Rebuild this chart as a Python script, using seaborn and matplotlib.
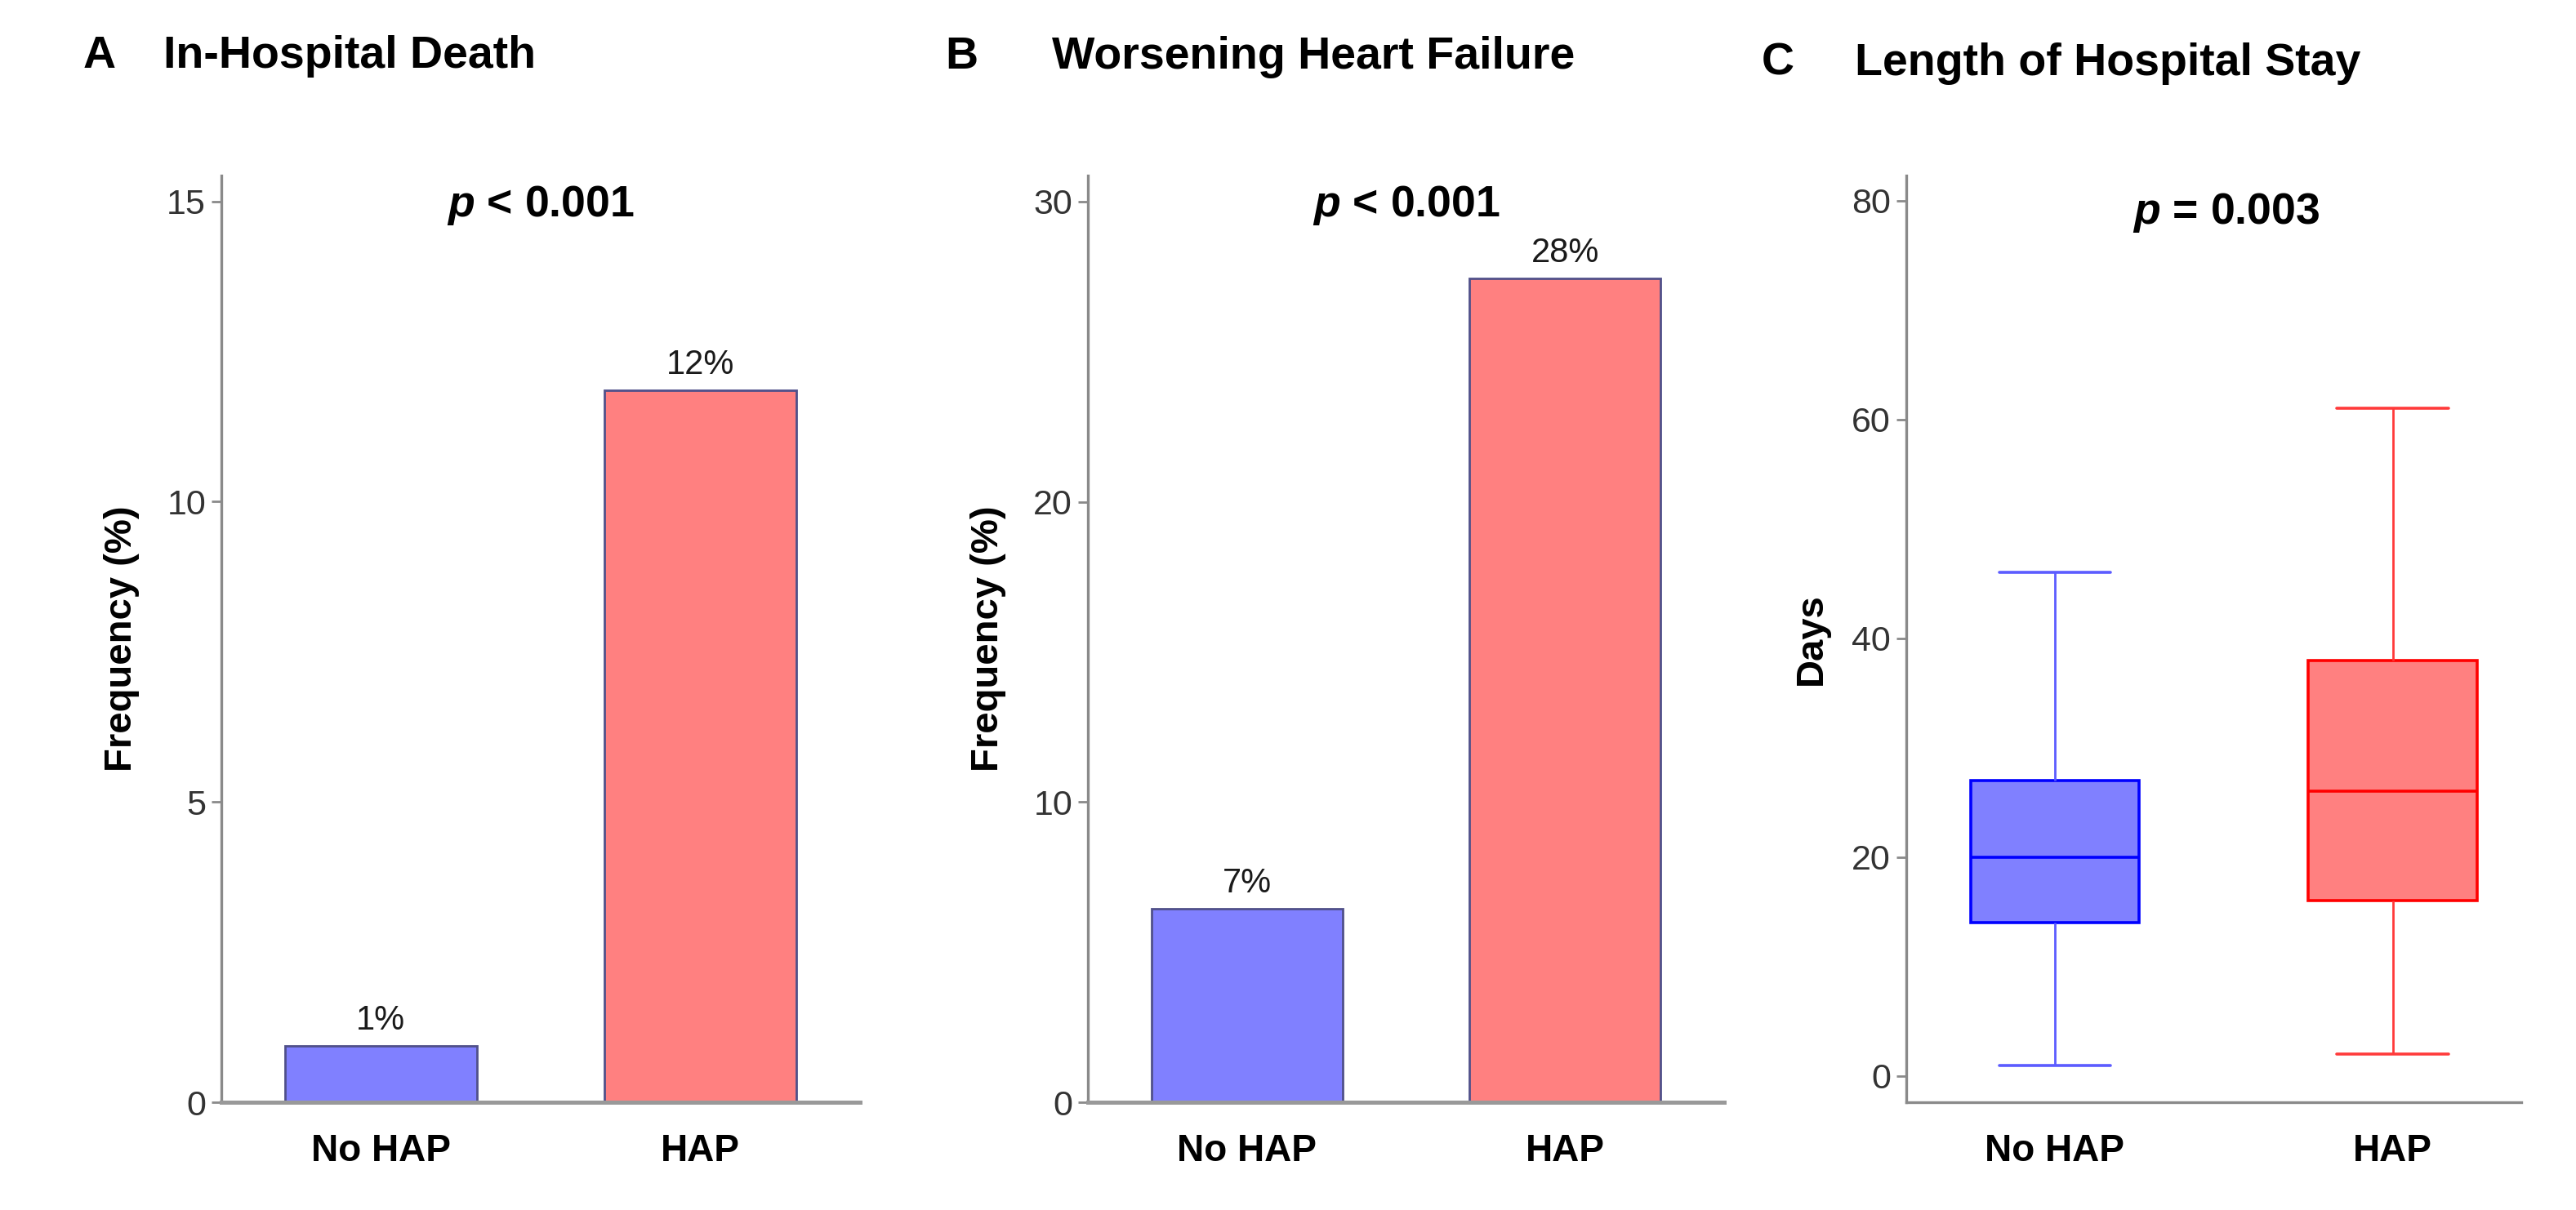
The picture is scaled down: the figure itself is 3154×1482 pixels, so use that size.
import matplotlib
matplotlib.use('Agg')
import matplotlib.pyplot as plt
import seaborn as sns
import pandas as pd
import numpy as np

# ---------------- data ----------------
groups = ['No HAP', 'HAP']
death_pct = [0.94, 11.85]
death_labels = ['1%', '12%']
whf_pct = [6.45, 27.45]
whf_labels = ['7%', '28%']
# five-number summaries (min, Q1, median, Q3, max)
los_no_hap = [1, 14, 20, 27, 46]
los_hap = [2, 16, 26, 38, 61]

# ---------------- style ----------------
sns.set_style('white')
plt.rcParams['font.family'] = ['Liberation Sans', 'DejaVu Sans']
plt.rcParams['mathtext.fontset'] = 'custom'
plt.rcParams['mathtext.it'] = 'Liberation Sans:italic:bold'
plt.rcParams['mathtext.rm'] = 'Liberation Sans:bold'
plt.rcParams['text.color'] = 'black'
plt.rcParams['axes.labelcolor'] = 'black'

fill = {'No HAP': '#8080FF', 'HAP': '#FF8080'}
edge = {'No HAP': '#0000FF', 'HAP': '#FF0000'}
whisk = {'No HAP': '#5C5CFF', 'HAP': '#FF3A3A'}

fig = plt.figure(figsize=(15.77, 7.41), dpi=200)
bottom, height = 0.089, 0.766
axA = fig.add_axes([0.0859, bottom, 0.2479, height])
axB = fig.add_axes([0.4223, bottom, 0.2470, height])
axC = fig.add_axes([0.7400, bottom, 0.2387, height])


def bar_panel(ax, values, labels):
    df = pd.DataFrame({'group': groups, 'pct': values})
    sns.barplot(data=df, x='group', y='pct', hue='group', order=groups,
                hue_order=groups, palette=fill, width=0.6, saturation=1,
                edgecolor='#50508A', linewidth=1.0, legend=False, ax=ax)
    for cont, lab in zip(ax.containers, labels):
        ax.bar_label(cont, labels=[lab], padding=4, fontsize=15, color='#1a1a1a')


bar_panel(axA, death_pct, death_labels)
bar_panel(axB, whf_pct, whf_labels)

df_los = pd.DataFrame({'group': ['No HAP'] * len(los_no_hap) + ['HAP'] * len(los_hap),
                       'days': los_no_hap + los_hap})
sns.boxplot(data=df_los, x='group', y='days', hue='group', order=groups,
            hue_order=groups, palette=fill, width=0.5, saturation=1, whis=1.5,
            showfliers=False, legend=False, ax=axC)

for cont, g in zip(axC.containers, groups):
    for b in cont.boxes:
        b.set_edgecolor(edge[g])
        b.set_facecolor(fill[g])
        b.set_linewidth(1.3)
    for m in cont.medians:
        m.set_color(edge[g])
        m.set_linewidth(1.3)
    for w in cont.whiskers:
        w.set_color(whisk[g])
        w.set_linewidth(1.0)
    for c in cont.caps:
        c.set_color(whisk[g])
        c.set_linewidth(1.3)
        xd = np.asarray(c.get_xdata(), dtype=float)
        mid = xd.mean()
        c.set_xdata([mid - 0.165, mid + 0.165])

# ---------------- axes ----------------
axA.set_ylim(0, 15.43)
axA.set_yticks([0, 5, 10, 15])
axB.set_ylim(0, 30.87)
axB.set_yticks([0, 10, 20, 30])
axC.set_ylim(-2.4, 82.3)
axC.set_yticks([0, 20, 40, 60, 80])
axA.set_xlim(-0.5, 1.5)
axB.set_xlim(-0.5, 1.5)
axC.set_xlim(-0.44, 1.38)

axA.set_ylabel('Frequency (%)', fontsize=17, fontweight='bold', labelpad=12)
axB.set_ylabel('Frequency (%)', fontsize=17, fontweight='bold', labelpad=12)
axC.set_ylabel('Days', fontsize=17, fontweight='bold', labelpad=10)

for ax in (axA, axB, axC):
    ax.set_xlabel('')
    for s in ['top', 'right']:
        ax.spines[s].set_visible(False)
    for s in ['left', 'bottom']:
        ax.spines[s].set_color('#8a8a8a')
        ax.spines[s].set_linewidth(1.2)
    ax.tick_params(axis='y', left=True, length=4.3, width=1.0, color='#8a8a8a',
                   pad=2.5, labelsize=15.5, labelcolor='#333333')
    ax.tick_params(axis='x', bottom=False, length=0, pad=13.7, labelsize=16.5,
                   labelcolor='black')
    for t in ax.get_xticklabels():
        t.set_fontweight('bold')

for ax in (axA, axB):
    ax.spines['bottom'].set_linewidth(1.8)
    ax.spines['bottom'].set_color('#999999')

axA.text(0.5, 0.968, r'$p$ < 0.001', transform=axA.transAxes, ha='center',
         va='center', fontsize=19.3, fontweight='bold')
axB.text(0.5, 0.968, r'$p$ < 0.001', transform=axB.transAxes, ha='center',
         va='center', fontsize=19.3, fontweight='bold')
axC.text(0.52, 0.96, r'$p$ = 0.003', transform=axC.transAxes, ha='center',
         va='center', fontsize=19.3, fontweight='bold')

# panel titles
fig.text(0.0323, 0.944, 'A', fontsize=20, fontweight='bold', va='baseline')
fig.text(0.0634, 0.944, 'In-Hospital Death', fontsize=20, fontweight='bold', va='baseline')
fig.text(0.3668, 0.943, 'B', fontsize=20, fontweight='bold', va='baseline')
fig.text(0.4084, 0.943, 'Worsening Heart Failure', fontsize=20, fontweight='bold', va='baseline')
fig.text(0.6839, 0.938, 'C', fontsize=20, fontweight='bold', va='baseline')
fig.text(0.7200, 0.938, 'Length of Hospital Stay', fontsize=20, fontweight='bold', va='baseline')

fig.savefig('out.png', dpi=200, facecolor='white')
